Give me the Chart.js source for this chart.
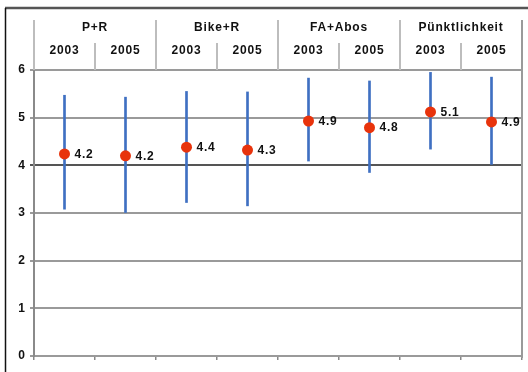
<!DOCTYPE html>
<html>
<head>
<meta charset="utf-8">
<script src="https://cdn.jsdelivr.net/npm/chart.js@4/dist/chart.umd.min.js"></script>
<style>
  html, body { margin: 0; padding: 0; background: #fff; }
  canvas { display: block; }
</style>
</head>
<body>
<canvas id="c" width="528" height="372"></canvas>
<script>
// Survey groups and the years surveyed in each
const groups = ['P+R', 'Bike+R', 'FA+Abos', 'Pünktlichkeit'];
const years = ['2003', '2005', '2003', '2005', '2003', '2005', '2003', '2005'];

// Mean rating per group/year and the spread (low / high) around it
const means = [4.24, 4.20, 4.38, 4.32, 4.93, 4.79, 5.12, 4.91];
const lows  = [3.08, 3.01, 3.22, 3.15, 4.09, 3.85, 4.34, 4.02];
const highs = [5.47, 5.43, 5.55, 5.54, 5.83, 5.77, 5.95, 5.85];

// Y axis ticks
const yTicks = [0, 1, 2, 3, 4, 5, 6];

const FONT = 'bold 12px "Liberation Sans", Arial, Helvetica, sans-serif';
const BLUE = '#3f70c2';
const RED = '#e8330c';

// Frame, header with group/year labels, right border
const framePlugin = {
  id: 'frame',
  beforeDraw(chart) {
    const ctx = chart.ctx;
    ctx.save();
    ctx.fillStyle = '#fff';
    ctx.fillRect(0, 0, chart.width, chart.height);
    ctx.restore();
  },
  afterDraw(chart) {
    const ctx = chart.ctx;
    const area = chart.chartArea;
    const x = chart.scales.x;
    const half = (x.getPixelForValue(1) - x.getPixelForValue(0)) / 2;
    ctx.save();

    // outer frame
    ctx.strokeStyle = '#555';
    ctx.lineWidth = 2.5;
    ctx.beginPath();
    ctx.moveTo(5, 8);
    ctx.lineTo(chart.width, 8);
    ctx.stroke();
    ctx.strokeStyle = '#111';
    ctx.lineWidth = 1.5;
    ctx.beginPath();
    ctx.moveTo(5.5, 8);
    ctx.lineTo(5.5, chart.height);
    ctx.stroke();

    // header separators
    ctx.strokeStyle = '#bdbdbd';
    ctx.lineWidth = 2;
    for (let g = 0; g <= groups.length; g++) {
      const bx = Math.round(x.getPixelForValue(0) - half + g * 4 * half);
      ctx.beginPath();
      ctx.moveTo(bx, 20);
      ctx.lineTo(bx, area.top);
      ctx.stroke();
    }
    for (let g = 0; g < groups.length; g++) {
      const bx = Math.round((x.getPixelForValue(2 * g) + x.getPixelForValue(2 * g + 1)) / 2);
      ctx.beginPath();
      ctx.moveTo(bx, 43);
      ctx.lineTo(bx, area.top);
      ctx.stroke();
    }

    // right border of the plot
    ctx.strokeStyle = '#9a9a9a';
    ctx.beginPath();
    ctx.moveTo(area.right, 20);
    ctx.lineTo(area.right, area.bottom + 2);
    ctx.stroke();

    // header text
    ctx.fillStyle = '#111';
    ctx.font = FONT;
    ctx.letterSpacing = '0.8px';
    ctx.textAlign = 'center';
    ctx.textBaseline = 'middle';
    groups.forEach((g, i) => {
      const cx = (x.getPixelForValue(2 * i) + x.getPixelForValue(2 * i + 1)) / 2;
      ctx.fillText(g, cx, 28);
    });
    years.forEach((yr, i) => {
      ctx.fillText(yr, x.getPixelForValue(i), 51);
    });

    // value labels beside the mean points
    const meta = chart.getDatasetMeta(0);
    ctx.textAlign = 'left';
    meta.data.forEach((pt, i) => {
      ctx.fillText(means[i].toFixed(1), pt.x + 10, pt.y + 0.5);
    });
    ctx.restore();
  }
};

new Chart(document.getElementById('c'), {
  data: {
    labels: years,
    datasets: [
      {
        type: 'line',
        data: means,
        showLine: false,
        pointRadius: 5.5,
        pointHoverRadius: 5.5,
        pointBackgroundColor: RED,
        pointBorderWidth: 0,
        order: 0
      },
      {
        type: 'bar',
        data: lows.map((l, i) => [l, highs[i]]),
        backgroundColor: BLUE,
        barThickness: 2,
        borderWidth: 0,
        order: 1
      }
    ]
  },
  options: {
    responsive: false,
    animation: false,
    devicePixelRatio: 1,
    layout: { padding: { top: 70, right: 6, left: 0, bottom: 0 } },
    plugins: { legend: { display: false }, tooltip: { enabled: false } },
    scales: {
      x: {
        type: 'category',
        offset: true,
        grid: {
          offset: true,
          drawOnChartArea: false,
          drawTicks: true,
          tickLength: 4,
          color: '#888',
          lineWidth: 1.5
        },
        border: { display: false },
        ticks: { display: false },
        afterFit(scale) { scale.height = 16; }
      },
      y: {
        min: 0,
        max: 6,
        afterBuildTicks(scale) { scale.ticks = yTicks.map(v => ({ value: v })); },
        grid: {
          color: (c) => (c.tick && c.tick.value === 4 ? '#555' : '#9a9a9a'),
          lineWidth: 2,
          tickLength: 4
        },
        border: { color: '#8a8a8a', width: 2 },
        ticks: {
          color: '#111',
          padding: 5,
          font: { family: '"Liberation Sans", Arial, sans-serif', size: 12, weight: 'bold' }
        },
        afterFit(scale) { scale.width = 34; }
      }
    }
  },
  plugins: [framePlugin]
});
</script>
</body>
</html>
